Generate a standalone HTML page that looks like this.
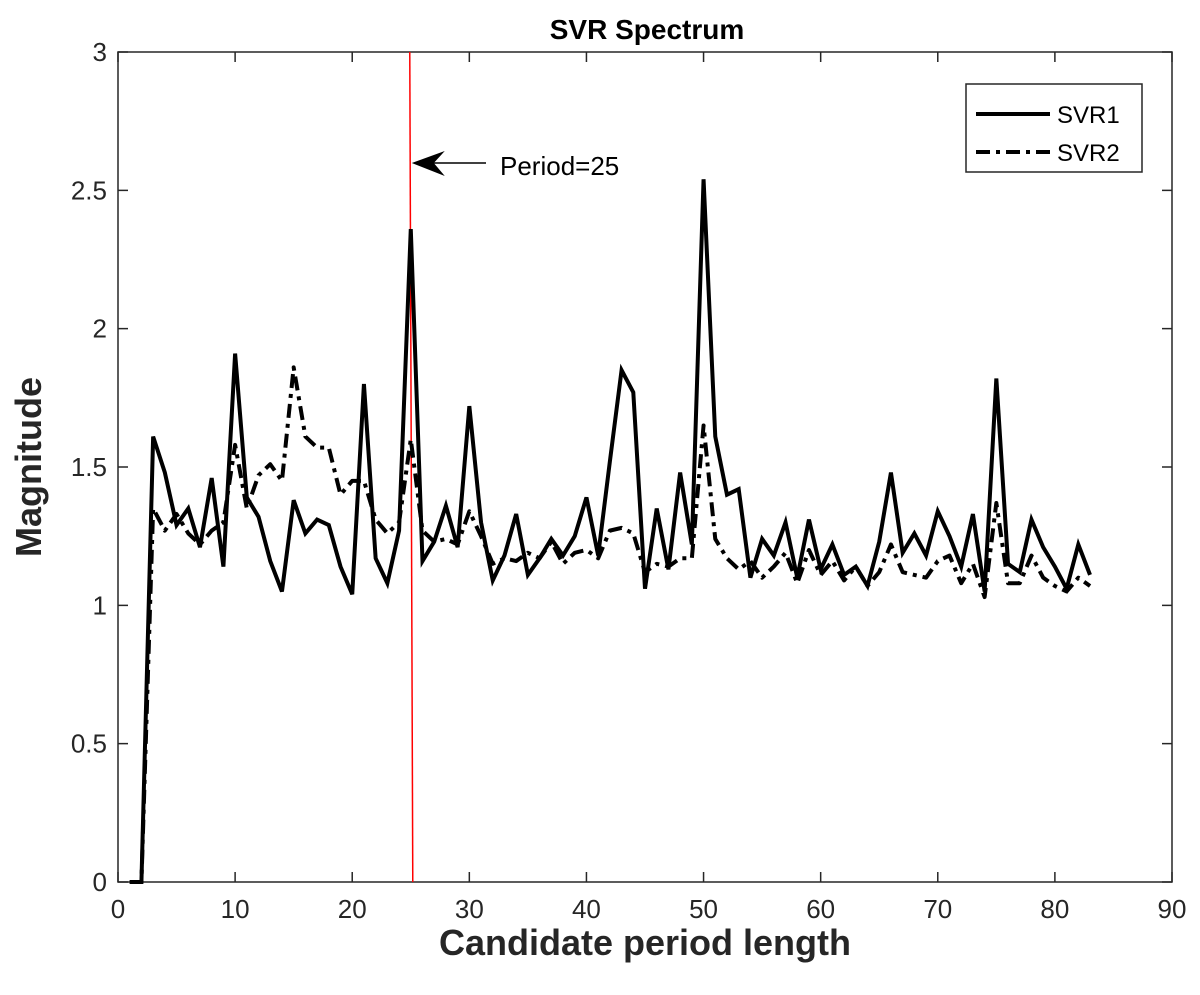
<!DOCTYPE html>
<html><head><meta charset="utf-8"><style>
html,body{margin:0;padding:0;background:#fff;width:1200px;height:995px;overflow:hidden}
svg text{font-family:"Liberation Sans",Arial,sans-serif}
</style></head><body>
<svg id="chart" width="1200" height="995" viewBox="0 0 1200 995" xmlns="http://www.w3.org/2000/svg">
<rect x="0" y="0" width="1200" height="995" fill="#fff"/>
<g id="plot"></g>
</svg>
<script>
const xVals = [1,2,3,4,5,6,7,8,9,10,11,12,13,14,15,16,17,18,19,20,21,22,23,24,25,26,27,28,29,30,31,32,33,34,35,36,37,38,39,40,41,42,43,44,45,46,47,48,49,50,51,52,53,54,55,56,57,58,59,60,61,62,63,64,65,66,67,68,69,70,71,72,73,74,75,76,77,78,79,80,81,82,83];
const svr1 = [0,0,1.61,1.48,1.29,1.35,1.21,1.46,1.14,1.91,1.39,1.32,1.16,1.05,1.38,1.26,1.31,1.29,1.14,1.04,1.80,1.17,1.08,1.27,2.36,1.16,1.23,1.36,1.21,1.72,1.30,1.09,1.18,1.33,1.11,1.17,1.24,1.18,1.25,1.39,1.18,1.52,1.85,1.77,1.06,1.35,1.13,1.48,1.22,2.54,1.61,1.40,1.42,1.10,1.24,1.18,1.30,1.10,1.31,1.13,1.22,1.11,1.14,1.07,1.23,1.48,1.19,1.26,1.18,1.34,1.25,1.14,1.33,1.05,1.82,1.15,1.12,1.31,1.21,1.14,1.06,1.22,1.11];
const svr2 = [0,0,1.35,1.27,1.33,1.26,1.22,1.27,1.30,1.58,1.35,1.47,1.51,1.45,1.86,1.61,1.57,1.57,1.40,1.45,1.45,1.31,1.26,1.30,1.60,1.27,1.23,1.24,1.22,1.34,1.25,1.15,1.17,1.16,1.19,1.17,1.23,1.15,1.19,1.20,1.17,1.27,1.28,1.26,1.12,1.15,1.14,1.17,1.17,1.65,1.24,1.17,1.13,1.16,1.10,1.14,1.19,1.08,1.20,1.11,1.16,1.09,1.14,1.07,1.12,1.22,1.12,1.11,1.10,1.16,1.18,1.08,1.15,1.03,1.37,1.08,1.08,1.18,1.10,1.07,1.05,1.10,1.07];
const xTicks = [0,10,20,30,40,50,60,70,80,90];
const yTicks = [0,0.5,1,1.5,2,2.5,3];
const yTickLabels = ["0","0.5","1","1.5","2","2.5","3"];
const markedPeriod = 25;

const L=118,R=1172,T=52,B=882;
const sx=v=>L+(v-0)/90*(R-L);
const sy=v=>B-(v-0)/3*(B-T);
const NS="http://www.w3.org/2000/svg";
const g=document.getElementById('plot');
function mk(tag,attrs,parent){const e=document.createElementNS(NS,tag);for(const k in attrs)e.setAttribute(k,attrs[k]);(parent||g).appendChild(e);return e;}

const box=mk('rect',{x:L,y:T,width:R-L,height:B-T,fill:'none',stroke:'#262626','stroke-width':1.5});



xTicks.forEach(t=>{
  const x=sx(t);
  const tk=mk('path',{d:`M${x},${B}V${B-10}M${x},${T}V${T+10}`,stroke:'#262626','stroke-width':1.5});
  
  
  const tx=mk('text',{x:x,y:B+36,'text-anchor':'middle','font-size':26,fill:'#262626'});
  tx.textContent=t;
  
  
});
yTicks.forEach((t,i)=>{
  const y=sy(t);
  const tk=mk('path',{d:`M${L},${y}H${L+10}M${R},${y}H${R-10}`,stroke:'#262626','stroke-width':1.5});
  
  
  const tx=mk('text',{x:L-11,y:y+9,'text-anchor':'end','font-size':26,fill:'#262626'});
  tx.textContent=yTickLabels[i];
  
  
});

const rl=mk('line',{x1:sx(markedPeriod)-1,y1:T,x2:sx(markedPeriod)+2,y2:B,stroke:'#ff0000','stroke-width':1.5});



function pts(arr){return xVals.map((x,i)=>sx(x)+','+sy(arr[i])).join(' ');}
const l2=mk('polyline',{points:pts(svr2),fill:'none',stroke:'#000','stroke-width':4,'stroke-dasharray':'14,6,4,6','stroke-linejoin':'round'});


const l1=mk('polyline',{points:pts(svr1),fill:'none',stroke:'#000','stroke-width':4,'stroke-linejoin':'miter'});



const ax=sx(markedPeriod)+1;
const arr=mk('g',{});


mk('line',{x1:ax+12,y1:163,x2:486,y2:163,stroke:'#000','stroke-width':1.5},arr);
mk('path',{d:`M${ax},163 L${ax+33},151 L${ax+22},163 L${ax+33},176 Z`,fill:'#000'},arr);
const at=mk('text',{x:500,y:175,'font-size':26,fill:'#000'});
at.textContent='Period=25';



const lg=mk('g',{});


mk('rect',{x:966,y:84,width:176,height:88,fill:'#fff',stroke:'#262626','stroke-width':1.5},lg);
const e1=mk('g',{},lg);


mk('line',{x1:976,y1:114,x2:1050,y2:114,stroke:'#000','stroke-width':4},e1);
const t1=mk('text',{x:1057,y:123,'font-size':24,fill:'#000'},e1);t1.textContent='SVR1';
const e2=mk('g',{},lg);


mk('line',{x1:976,y1:152,x2:1050,y2:152,stroke:'#000','stroke-width':4,'stroke-dasharray':'14,6,4,6'},e2);
const t2=mk('text',{x:1057,y:161,'font-size':24,fill:'#000'},e2);t2.textContent='SVR2';

const ti=mk('text',{x:647,y:39,'text-anchor':'middle','font-size':28,'font-weight':'bold',fill:'#000'});
ti.textContent='SVR Spectrum';


const xt=mk('text',{x:645,y:955,'text-anchor':'middle','font-size':36,'font-weight':'bold',fill:'#262626'});
xt.textContent='Candidate period length';


const yt=mk('text',{x:0,y:0,'text-anchor':'middle','font-size':36,'font-weight':'bold',fill:'#262626',transform:'translate(41,467) rotate(-90)'});
yt.textContent='Magnitude';


</script>
</body></html>
